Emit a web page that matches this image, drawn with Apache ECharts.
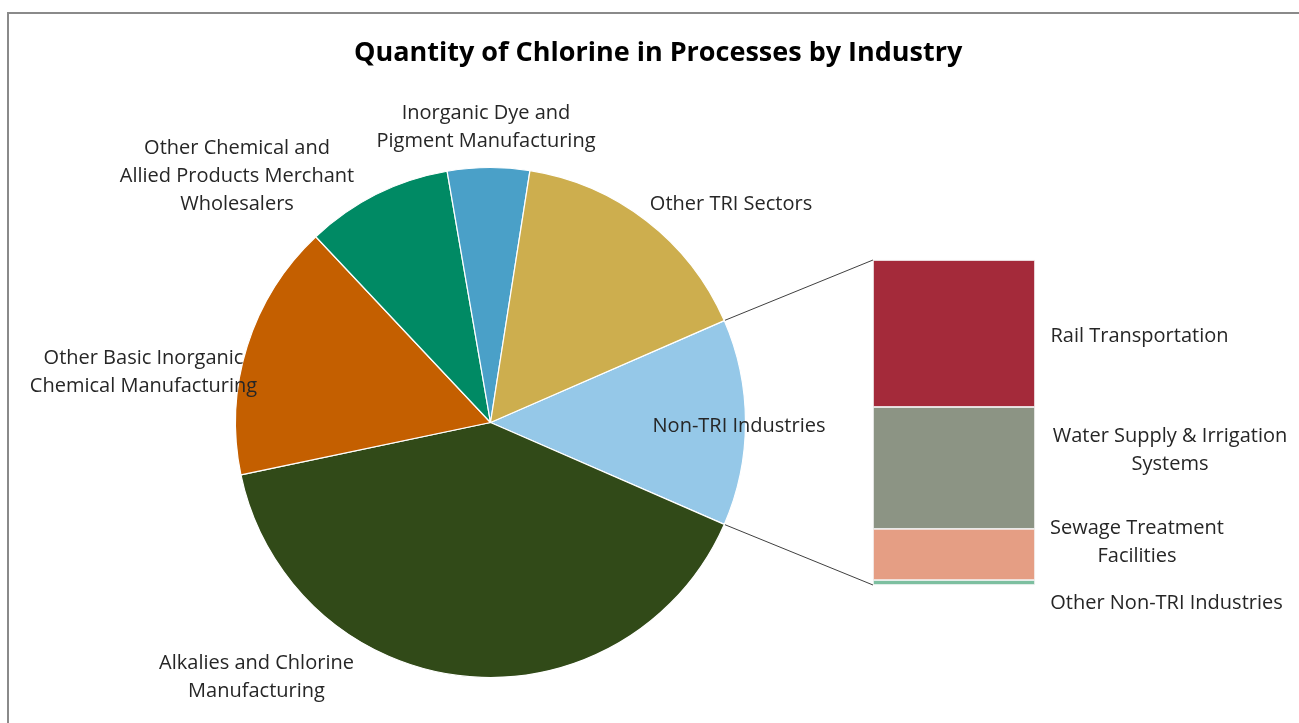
<!DOCTYPE html>
<html><head><meta charset="utf-8">
<script src="https://cdn.jsdelivr.net/npm/echarts@6/dist/echarts.min.js"></script>
<style>html,body{margin:0;padding:0;background:#fff}#c{width:1299px;height:723px}</style>
</head><body><div id="c"></div>
<script>
// ---- data ----
const pieCategories = ['Non-TRI Industries', 'Alkalies and Chlorine Manufacturing', 'Other Basic Inorganic Chemical Manufacturing', 'Other Chemical and Allied Products Merchant Wholesalers', 'Inorganic Dye and Pigment Manufacturing', 'Other TRI Sectors'];
const pieValues = [13.1, 40.2, 16.3, 9.3, 5.2, 16.0];
const pieLabelText = ['Non-TRI Industries', 'Alkalies and Chlorine\nManufacturing', 'Other Basic Inorganic\nChemical Manufacturing', 'Other Chemical and\nAllied Products Merchant\nWholesalers', 'Inorganic Dye and\nPigment Manufacturing', 'Other TRI Sectors'];
// bar (breakdown of Non-TRI Industries), bottom to top
const barCategories = ['Other Non-TRI Industries', 'Sewage Treatment Facilities', 'Water Supply & Irrigation Systems', 'Rail Transportation'];
const barValues = [0.2, 2.06, 4.91, 5.92];
const barLabelText = ['Other Non-TRI Industries', 'Sewage Treatment\nFacilities', 'Water Supply & Irrigation\nSystems', 'Rail Transportation'];

// ---- styles / layout ----
const pieColors = ['#95C8E8', '#314A18', '#C45F00', '#008A64', '#4AA0C8', '#CDAE4E'];
const barColors = ['#7DBFA0', '#E59E84', '#8C9484', '#A42A3A'];
const pieCenter = [490.5, 422.5];
const pieRadius = 255;
const gridBox = {left: 873, top: 260, width: 162, height: 325};
const pieLabelPlace = [[739, 426], [256.5, 677], [143.5, 372], [237, 176], [486, 127], [731, 204]];
const barLabelPlace = [[1166.5, 603], [1137, 542], [1170, 450], [1139.5, 336]];
const FONT = 'Open Sans';
const textStyle = {fontFamily: FONT, fontSize: 20, color: '#262626', lineHeight: 28, width: 400, overflow: 'none'};

const pieTotal = pieValues.reduce((a, b) => a + b, 0);
const barTotal = barValues.reduce((a, b) => a + b, 0);
const startAngle = 360 * pieValues[0] / pieTotal / 2;

const chart = echarts.init(document.getElementById('c'), null, {renderer: 'canvas'});

const series = [{
  type: 'pie',
  center: pieCenter,
  radius: pieRadius,
  startAngle: startAngle,
  clockwise: true,
  animation: false,
  itemStyle: {borderColor: '#fff', borderWidth: 1.2},
  label: Object.assign({show: true, position: 'outside', formatter: p => pieLabelText[p.dataIndex]}, textStyle),
  labelLine: {show: false},
  labelLayout: p => ({x: pieLabelPlace[p.dataIndex][0], y: pieLabelPlace[p.dataIndex][1], align: 'center', verticalAlign: 'middle'}),
  emphasis: {disabled: true},
  data: pieCategories.map((n, i) => ({name: n, value: pieValues[i], itemStyle: {color: pieColors[i]}}))
}];
barCategories.forEach((n, i) => {
  series.push({
    type: 'bar', name: n, stack: 'nontri', barWidth: '100%', animation: false,
    xAxisIndex: 0, yAxisIndex: 0,
    itemStyle: {color: barColors[i], borderColor: '#f2f2f2', borderWidth: 0.8},
    label: Object.assign({show: true, position: 'right', formatter: () => barLabelText[i]}, textStyle),
    labelLayout: () => ({x: barLabelPlace[i][0], y: barLabelPlace[i][1], align: 'center', verticalAlign: 'middle'}),
    emphasis: {disabled: true},
    data: [barValues[i]]
  });
});

chart.setOption({
  backgroundColor: '#fff',
  animation: false,
  title: {text: 'Quantity of Chlorine in Processes by Industry', left: 349, top: 35,
    textStyle: {fontFamily: FONT, fontSize: 27, fontWeight: 'bold', color: '#000'}},
  grid: Object.assign({containLabel: false}, gridBox),
  xAxis: {type: 'category', data: ['Non-TRI Industries'], show: false},
  yAxis: {type: 'value', min: 0, max: barTotal, show: false},
  series: series
});

// connector lines from the split slice edges to the bar corners
function drawConnectors() {
  const a = startAngle * Math.PI / 180;
  const top = chart.convertToPixel({gridIndex: 0}, [0, barTotal]);
  const bot = chart.convertToPixel({gridIndex: 0}, [0, 0]);
  const barLeft = gridBox.left;
  const p1 = [pieCenter[0] + pieRadius * Math.cos(a), pieCenter[1] - pieRadius * Math.sin(a)];
  const p2 = [pieCenter[0] + pieRadius * Math.cos(a), pieCenter[1] + pieRadius * Math.sin(a)];
  chart.setOption({graphic: [
    {type: 'rect', shape: {x: 8, y: 13, width: 1400, height: 1000}, style: {fill: 'none', stroke: '#8a8a8a', lineWidth: 2}, silent: true},
    {type: 'line', shape: {x1: p1[0], y1: p1[1], x2: barLeft, y2: top[1]}, style: {stroke: '#404040', lineWidth: 1}, silent: true},
    {type: 'line', shape: {x1: p2[0], y1: p2[1], x2: barLeft, y2: bot[1]}, style: {stroke: '#404040', lineWidth: 1}, silent: true}
  ]});
}
drawConnectors();
</script></body></html>
